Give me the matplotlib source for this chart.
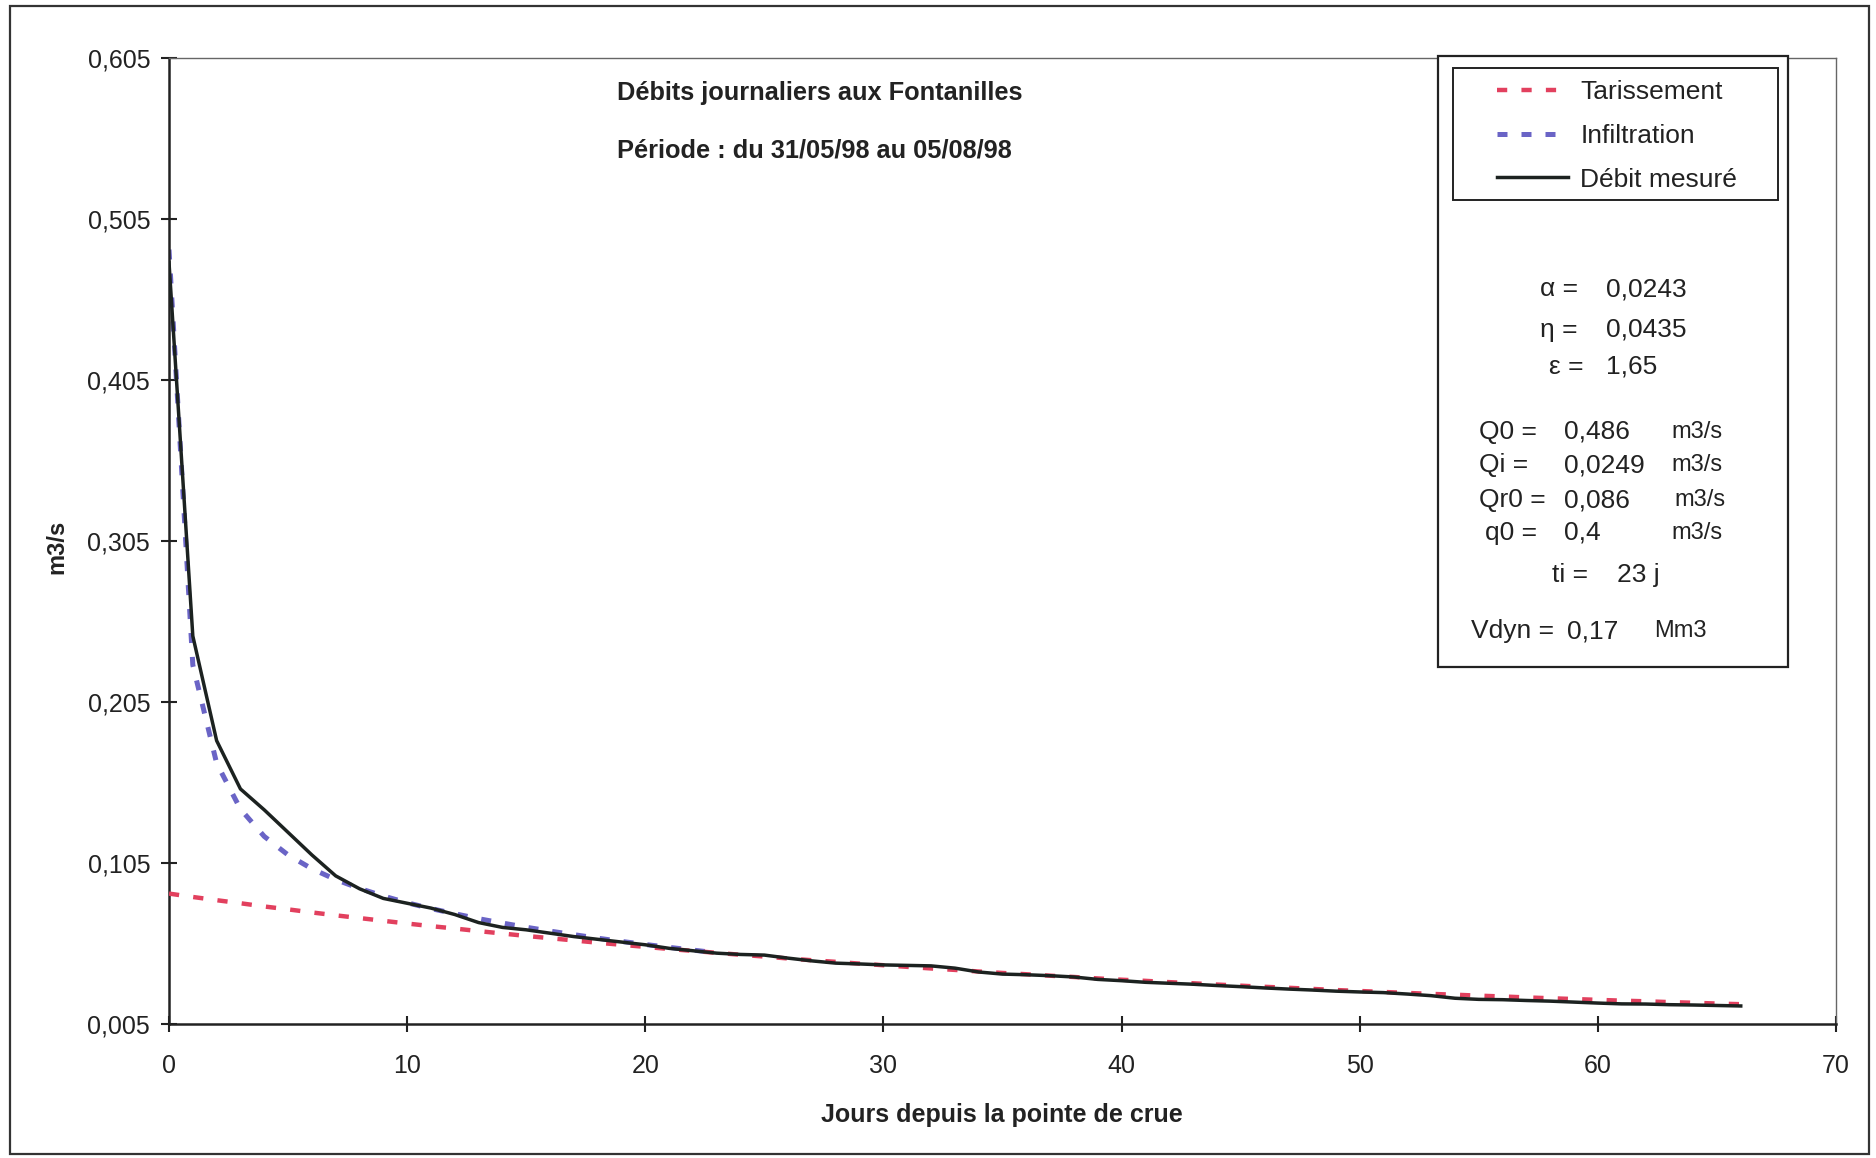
import matplotlib
matplotlib.use("Agg")
import matplotlib.pyplot as plt
from matplotlib.patches import Rectangle
from matplotlib.ticker import FuncFormatter

# jours depuis la pointe de crue
jours = list(range(67))

debit_mesure = [
    0.478, 0.246, 0.181, 0.151, 0.138, 0.124, 0.110, 0.097, 0.089, 0.083,
    0.080, 0.077, 0.073, 0.068, 0.065, 0.0635, 0.0614, 0.0593, 0.0576, 0.0559,
    0.0542, 0.0520, 0.0505, 0.0490, 0.0482, 0.0478, 0.0459, 0.0442, 0.0428, 0.0423,
    0.0417, 0.0414, 0.0411, 0.0397, 0.0373, 0.0360, 0.0356, 0.0350, 0.0342, 0.0327,
    0.0319, 0.0309, 0.0303, 0.0297, 0.0289, 0.0282, 0.0274, 0.0267, 0.0261, 0.0254,
    0.0249, 0.0245, 0.0236, 0.0226, 0.0210, 0.0203, 0.0201, 0.0196, 0.0192, 0.0186,
    0.0180, 0.0175, 0.0174, 0.0170, 0.0168, 0.0165, 0.0162,
]

tarissement = [
    0.0860, 0.0839, 0.0819, 0.0800, 0.0780, 0.0762, 0.0743, 0.0725, 0.0708, 0.0691,
    0.0674, 0.0658, 0.0643, 0.0627, 0.0612, 0.0597, 0.0583, 0.0569, 0.0555, 0.0542,
    0.0529, 0.0516, 0.0504, 0.0492, 0.0480, 0.0469, 0.0457, 0.0446, 0.0436, 0.0425,
    0.0415, 0.0405, 0.0395, 0.0386, 0.0376, 0.0367, 0.0359, 0.0350, 0.0342, 0.0333,
    0.0325, 0.0318, 0.0310, 0.0303, 0.0295, 0.0288, 0.0281, 0.0275, 0.0268, 0.0261,
    0.0255, 0.0249, 0.0243, 0.0237, 0.0232, 0.0226, 0.0221, 0.0215, 0.0210, 0.0205,
    0.0200, 0.0195, 0.0191, 0.0186, 0.0182, 0.0177, 0.0173,
]

jours_infiltration = list(range(24))
infiltration = [
    0.486, 0.228, 0.167, 0.1385, 0.1215, 0.110, 0.1014, 0.0947, 0.0892, 0.0845,
    0.0803, 0.0767, 0.0735, 0.0704, 0.0677, 0.0651, 0.0627, 0.0605, 0.0583, 0.0563,
    0.0544, 0.0526, 0.0509, 0.0492,
]

y_ticks = [0.005, 0.105, 0.205, 0.305, 0.405, 0.505, 0.605]
x_ticks = [0, 10, 20, 30, 40, 50, 60, 70]

parametres = [
    ("\u03b1 =", "0,0243", ""),
    ("\u03b7 =", "0,0435", ""),
    ("\u03b5 =", "1,65", ""),
    ("Q0 =", "0,486", "m3/s"),
    ("Qi =", "0,0249", "m3/s"),
    ("Qr0 =", "0,086", "m3/s"),
    ("q0 =", "0,4", "m3/s"),
    ("ti =", "23 j", ""),
    ("Vdyn =", "0,17", "Mm3"),
]

plt.rcParams['font.family'] = ['Liberation Sans', 'DejaVu Sans']

W, H = 1876, 1158


def fx(px):
    return px / W


def fy(py):
    return 1 - py / H


fig = plt.figure(figsize=(W / 100, H / 100), dpi=100)
ax = fig.add_axes([fx(169), fy(1024), fx(1836) - fx(169), fy(58) - fy(1024)])

red = '#e2405e'
blue = '#6a64c6'
black = '#1c2220'
ink = '#222222'

ax.plot(jours, tarissement, color=red, lw=3.2, dashes=(2.3, 3.2), label='Tarissement', zorder=3)
ax.plot(jours_infiltration, infiltration, color=blue, lw=3.6, dashes=(2.0, 2.8), label='Infiltration', zorder=2)
ax.plot(jours, debit_mesure, color=black, lw=2.5, label='Débit mesuré', zorder=4)

ax.set_xlim(0, 70)
ax.set_ylim(0.005, 0.605)
ax.set_xticks(x_ticks)
ax.set_yticks(y_ticks)
ax.yaxis.set_major_formatter(FuncFormatter(lambda v, p: f"{v:.3f}".replace('.', ',')))
ax.tick_params(direction='inout', length=11, width=1.5, labelsize=18, colors=ink)
ax.tick_params(axis='x', pad=16)
ax.tick_params(axis='y', pad=8)
for side in ['left', 'bottom']:
    ax.spines[side].set_linewidth(1.8)
    ax.spines[side].set_color(ink)
for side in ['top', 'right']:
    ax.spines[side].set_linewidth(1.0)
    ax.spines[side].set_color('#666666')

fig.text(fx(57), fy(547), 'm3/s', rotation=90, fontsize=17, fontweight='bold',
         ha='center', va='center', color=ink)
fig.text(fx(1002), fy(1115), 'Jours depuis la pointe de crue', fontsize=18,
         fontweight='bold', ha='center', va='center', color=ink)

fig.text(fx(617), fy(93), 'Débits journaliers aux Fontanilles', fontsize=18.3,
         fontweight='bold', ha='left', va='center', color=ink)
fig.text(fx(617), fy(150), 'Période : du 31/05/98 au 05/08/98', fontsize=18.3,
         fontweight='bold', ha='left', va='center', color=ink)

# boite des parametres et legende
fig.add_artist(Rectangle((fx(1438), fy(667)), fx(1788) - fx(1438), fy(56) - fy(667),
                         transform=fig.transFigure, fill=True, facecolor='white',
                         edgecolor=ink, lw=1.6, zorder=5))
fig.add_artist(Rectangle((fx(1453), fy(200)), fx(1778) - fx(1453), fy(68) - fy(200),
                         transform=fig.transFigure, fill=False,
                         edgecolor=ink, lw=1.4, zorder=6))

leg = fig.legend(loc='upper left', bbox_to_anchor=(fx(1497), fy(80)), frameon=False,
                 fontsize=19, handlelength=2.7, handletextpad=0.45, labelspacing=0.75,
                 borderpad=0, borderaxespad=0)
leg.set_zorder(7)
for t in leg.get_texts():
    t.set_color(ink)

rows_y = [289, 330, 367, 432, 465, 500, 533, 575, 631]
label_x = [1540, 1540, 1549, 1479, 1479, 1479, 1485, 1552, 1471]
value_x = [1606, 1606, 1606, 1564, 1564, 1564, 1564, 1617, 1567]
unit_x = [0, 0, 0, 1671, 1671, 1674, 1671, 0, 1654]
for (lab, val, unit), y, lx, vx, ux in zip(parametres, rows_y, label_x, value_x, unit_x):
    fig.text(fx(lx), fy(y), lab, fontsize=19, ha='left', va='center', color=ink, zorder=8)
    fig.text(fx(vx), fy(y), val, fontsize=19, ha='left', va='center', color=ink, zorder=8)
    if unit:
        fig.text(fx(ux), fy(y), unit, fontsize=17, ha='left', va='center', color=ink, zorder=8)

# cadre exterieur
fig.add_artist(Rectangle((fx(10), fy(1154)), fx(1869) - fx(10), fy(6) - fy(1154),
                         transform=fig.transFigure, fill=False, edgecolor='#333333', lw=1.6))

fig.savefig('out.png', dpi=100)
